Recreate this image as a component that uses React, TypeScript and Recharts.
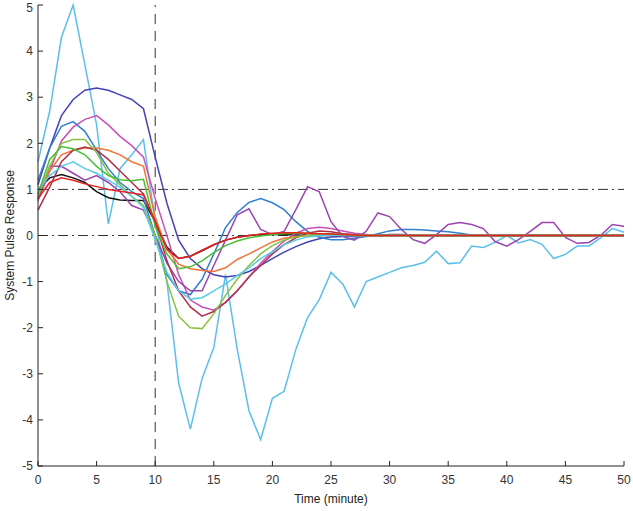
import React from 'react'
import {
  Label,
  Line,
  LineChart,
  ReferenceLine,
  XAxis,
  YAxis,
} from 'recharts'

// time axis, one sample per minute
const minutes = [
  0, 1, 2, 3, 4, 5, 6, 7, 8, 9, 10, 11, 12, 13, 14, 15, 16, 17, 18, 19, 20, 21,
  22, 23, 24, 25, 26, 27, 28, 29, 30, 31, 32, 33, 34, 35, 36, 37, 38, 39, 40,
  41, 42, 43, 44, 45, 46, 47, 48, 49, 50,
]

const xTicks = [0, 5, 10, 15, 20, 25, 30, 35, 40, 45, 50]
const yTicks = [-5, -4, -3, -2, -1, 0, 1, 2, 3, 4, 5]

const indigo = [
  1.1, 1.9, 2.6, 2.95, 3.15, 3.2, 3.15, 3.05, 2.95, 2.75,
  1.7, 0.7, -0.1, -0.5, -0.72, -0.85, -0.9, -0.87, -0.78, -0.65,
  -0.5, -0.36, -0.24, -0.14, -0.07, -0.03, -0.02, -0.02, -0.01, 0,
  0.02, 0.02, 0.01, 0, 0, 0, 0, 0, 0, 0,
  0, 0, 0, 0, 0, 0, 0, 0, 0, 0, 0,
]

const skyBlue = [
  1.6, 2.7, 4.3, 5.0, 3.7, 2.4, 0.25, 1.45, 1.75, 2.08,
  0.3, -1.0, -3.2, -4.2, -3.1, -2.43, -0.85, -2.47, -3.8, -4.43,
  -3.53, -3.38, -2.47, -1.78, -1.39, -0.8, -1.05, -1.55, -1.0, -0.9,
  -0.8, -0.7, -0.65, -0.58, -0.34, -0.61, -0.59, -0.23, -0.26, -0.15,
  0, -0.16, -0.09, -0.19, -0.5, -0.41, -0.23, -0.23, -0.05, 0.15, 0.07,
]

const blue = [
  1.2, 1.9, 2.37, 2.47, 2.26, 1.85, 1.45, 1.15, 0.95, 0.8,
  0.0, -0.85, -1.2, -1.28, -0.95, -0.4, 0.17, 0.5, 0.72, 0.8,
  0.71, 0.56, 0.3, 0.09, -0.04, -0.09, -0.09, -0.06, -0.02, 0.04,
  0.1, 0.13, 0.13, 0.12, 0.1, 0.08, 0.05, 0.01, 0, 0,
  0, 0, 0, 0, 0, 0, 0, 0, 0, 0, 0,
]

const magenta = [
  0.75, 1.4, 2.05, 2.35, 2.52, 2.6, 2.4, 2.15, 1.95, 1.7,
  0.8, 0.0, -0.85, -1.4, -1.55, -1.62, -1.45, -1.2, -0.9, -0.6,
  -0.35, -0.12, 0.05, 0.15, 0.18, 0.15, 0.1, 0.05, 0.02, 0,
  0, 0, 0, 0, 0, 0, 0, 0, 0, 0,
  0, 0, 0, 0, 0, 0, 0, 0, 0, 0, 0,
]

const purple = [
  0.8, 1.5, 1.5, 1.35, 1.2, 1.3, 1.15, 0.95, 0.65, 0.55,
  0.0, -0.6, -1.0, -1.2, -1.2, -0.65, -0.1, 0.45, 0.58, 0.13,
  0.02, 0.09, 0.56, 1.06, 0.95, 0.3, -0.02, -0.1, 0.09, 0.49,
  0.41, 0.13, -0.09, -0.17, 0.02, 0.24, 0.28, 0.24, 0.15, -0.13,
  -0.23, -0.09, 0.09, 0.28, 0.28, -0.04, -0.17, -0.15, 0, 0.24, 0.2,
]

const orange = [
  0.9, 1.4, 1.75, 1.85, 1.9, 1.9, 1.85, 1.75, 1.6, 1.5,
  0.4, -0.3, -0.62, -0.72, -0.76, -0.78, -0.7, -0.52, -0.4, -0.27,
  -0.14, -0.06, -0.02, 0, 0.02, 0.02, 0.01, 0, 0, 0,
  0, 0, 0, 0, 0, 0, 0, 0, 0, 0,
  0, 0, 0, 0, 0, 0, 0, 0, 0, 0, 0,
]

const red = [
  0.8, 1.15, 1.25, 1.2, 1.12, 1.06, 1.0, 0.96, 0.92, 0.88,
  0.3, -0.3, -0.5, -0.45, -0.32, -0.2, -0.1, -0.04, 0.0, 0.03,
  0.05, 0.06, 0.06, 0.05, 0.04, 0.03, 0.02, 0.01, 0, 0,
  0, 0, 0, 0, 0, 0, 0, 0, 0, 0,
  0, 0, 0, 0, 0, 0, 0, 0, 0, 0, 0,
]

const darkRed = [
  0.55, 1.05, 1.6, 1.85, 1.92, 1.85, 1.65, 1.4, 1.15, 0.9,
  0.3, -0.55, -1.2, -1.55, -1.75, -1.65, -1.45, -1.2, -0.9, -0.65,
  -0.4, -0.2, -0.05, 0.05, 0.1, 0.08, 0.04, 0.02, 0, 0,
  0, 0, 0, 0, 0, 0, 0, 0, 0, 0,
  0, 0, 0, 0, 0, 0, 0, 0, 0, 0, 0,
]

const green = [
  0.9, 1.65, 1.93, 1.88, 1.75, 1.5, 1.3, 1.21, 1.19, 1.22,
  0.2, -0.4, -0.72, -0.68, -0.55, -0.37, -0.22, -0.12, -0.05, -0.01,
  0.02, 0.04, 0.05, 0.05, 0.04, 0.03, 0.02, 0.01, 0, 0,
  0, 0, 0, 0, 0, 0, 0, 0, 0, 0,
  0, 0, 0, 0, 0, 0, 0, 0, 0, 0, 0,
]

const yellowGreen = [
  0.85, 1.5, 2.0, 2.08, 2.08, 1.8, 1.35, 1.1, 0.85, 0.65,
  0.0, -1.0, -1.75, -2.0, -2.02, -1.7, -1.3, -0.95, -0.65, -0.4,
  -0.22, -0.1, -0.03, 0, 0.02, 0.02, 0.01, 0, 0, 0,
  0, 0, 0, 0, 0, 0, 0, 0, 0, 0,
  0, 0, 0, 0, 0, 0, 0, 0, 0, 0, 0,
]

const cyan = [
  1.0, 1.3, 1.5, 1.6, 1.45, 1.35, 1.2, 1.05, 0.85, 0.6,
  -0.1, -0.8, -1.2, -1.38, -1.35, -1.2, -1.05, -0.87, -0.7, -0.5,
  -0.35, -0.2, -0.1, -0.03, 0, 0.01, 0, 0, 0, 0,
  0, 0, 0, 0, 0, 0, 0, 0, 0, 0,
  0, 0, 0, 0, 0, 0, 0, 0, 0, 0, 0,
]

const black = [
  1.0, 1.25, 1.32, 1.25, 1.15, 0.95, 0.82, 0.77, 0.76, 0.76,
  0.3, -0.25, -0.5, -0.45, -0.33, -0.2, -0.1, -0.04, 0, 0.02,
  0.02, 0.02, 0.01, 0, 0, 0, 0, 0, 0, 0,
  0, 0, 0, 0, 0, 0, 0, 0, 0, 0,
  0, 0, 0, 0, 0, 0, 0, 0, 0, 0, 0,
]

const series = [
  { key: 'skyBlue', values: skyBlue, color: '#5cbfea' },
  { key: 'black', values: black, color: '#111111' },
  { key: 'indigo', values: indigo, color: '#4343b8' },
  { key: 'blue', values: blue, color: '#2f80d0' },
  { key: 'magenta', values: magenta, color: '#c850b8' },
  { key: 'purple', values: purple, color: '#9a44b0' },
  { key: 'orange', values: orange, color: '#f0743a' },
  { key: 'darkRed', values: darkRed, color: '#b0304c' },
  { key: 'yellowGreen', values: yellowGreen, color: '#88c040' },
  { key: 'cyan', values: cyan, color: '#56cce6' },
  { key: 'green', values: green, color: '#48c034' },
  { key: 'red', values: red, color: '#e8221e' },
]

const data = minutes.map((t, i) => {
  const row: Record<string, number> = { t }
  series.forEach((s) => {
    row[s.key] = s.values[i]
  })
  return row
})

const font = { fontFamily: 'Liberation Sans, Arial, sans-serif', fontSize: 12, fill: '#333' }
const blank = () => ''

export default function App() {
  return (
    <div style={{ position: 'absolute', left: 0, top: 0, background: '#fff' }}>
      <LineChart
        width={633}
        height={511}
        data={data}
        margin={{ top: 5, right: 9, left: 0, bottom: 0 }}
      >
        <XAxis
          dataKey="t"
          type="number"
          domain={[0, 50]}
          ticks={xTicks}
          height={45}
          tickSize={-5}
          tickMargin={14}
          tick={font}
          stroke="#222"
        >
          <Label
            value="Time (minute)"
            position="insideBottom"
            offset={8}
            style={{ ...font, fill: '#222' }}
          />
        </XAxis>
        <XAxis
          xAxisId="top"
          orientation="top"
          type="number"
          domain={[0, 50]}
          ticks={xTicks}
          allowDataOverflow
          height={0}
          tickSize={-5}
          tickFormatter={blank}
          stroke="#222"
        />
        <YAxis
          type="number"
          domain={[-5, 5]}
          ticks={yTicks}
          width={38}
          tickSize={-5}
          tickMargin={10}
          tick={font}
          stroke="#222"
        >
          <Label
            value="System Pulse Response"
            angle={-90}
            position="insideLeft"
            offset={10}
            style={{ ...font, fill: '#222', textAnchor: 'middle' }}
          />
        </YAxis>
        <YAxis
          yAxisId="right"
          orientation="right"
          type="number"
          domain={[-5, 5]}
          ticks={yTicks}
          allowDataOverflow
          width={0}
          tickSize={-5}
          tickFormatter={blank}
          stroke="#222"
        />
        <ReferenceLine x={10} stroke="#333" strokeDasharray="10 7" />
        <ReferenceLine y={1} stroke="#333" strokeDasharray="10 4 2 4" />
        <ReferenceLine y={0} stroke="#333" strokeDasharray="10 4 2 4" />
        {series.map((s) => (
          <Line
            key={s.key}
            dataKey={s.key}
            stroke={s.color}
            strokeWidth={1.5}
            dot={false}
            type="linear"
            isAnimationActive={false}
          />
        ))}
      </LineChart>
    </div>
  )
}
